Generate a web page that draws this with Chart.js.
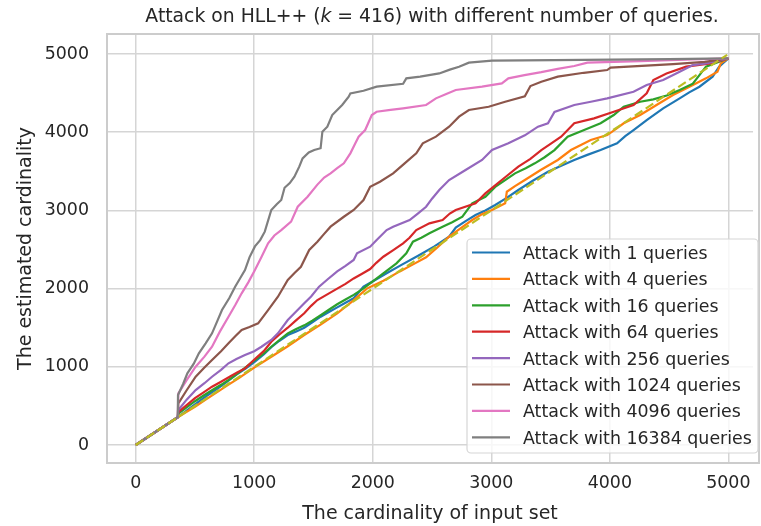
<!DOCTYPE html>
<html><head><meta charset="utf-8">
<script src="https://cdn.jsdelivr.net/npm/chart.js@4.4.0/dist/chart.umd.min.js"></script>
<style>html,body{margin:0;padding:0;background:#fff;overflow:hidden}canvas{display:block}</style>
</head><body>
<canvas id="c" width="761" height="526"></canvas>
<script>
// ---- data ----
const seriesLabels = ['Attack with 1 queries','Attack with 4 queries','Attack with 16 queries','Attack with 64 queries','Attack with 256 queries','Attack with 1024 queries','Attack with 4096 queries','Attack with 16384 queries'];
const seriesColors = ['#1f77b4','#ff7f0e','#2ca02c','#d62728','#9467bd','#8c564b','#e377c2','#7f7f7f'];
const xTicks = [0,1000,2000,3000,4000,5000];
const yTicks = [0,1000,2000,3000,4000,5000];

const q1 = [[0,0],[355,355],[430,440],[500,520],[600,630],[700,730],[780,820],[850,900],[930,980],[1006,1066],[1080,1160],[1144,1250],[1210,1330],[1283,1407],[1350,1450],[1422,1500],[1490,1570],[1561,1641],[1630,1700],[1700,1760],[1770,1820],[1839,1876],[1922,2025],[2020,2110],[2117,2196],[2250,2310],[2394,2430],[2520,2540],[2644,2664],[2700,2780],[2780,2860],[2867,2941],[2950,3000],[3033,3069],[3130,3160],[3228,3261],[3350,3380],[3478,3495],[3590,3570],[3700,3645],[3810,3710],[3922,3772],[4061,3858],[4130,3950],[4200,4028],[4311,4156],[4450,4305],[4589,4433],[4670,4510],[4756,4582],[4867,4710],[4922,4838],[5000,4945]];
const q4 = [[0,0],[355,355],[430,425],[500,490],[600,590],[700,690],[780,770],[867,853],[1000,990],[1144,1129],[1280,1260],[1422,1407],[1560,1540],[1700,1684],[1830,1840],[1950,2000],[2090,2100],[2228,2220],[2340,2310],[2450,2400],[2540,2520],[2644,2664],[2740,2770],[2839,2877],[2920,2950],[3006,3005],[3117,3091],[3131,3239],[3200,3310],[3283,3389],[3420,3520],[3561,3645],[3672,3772],[3760,3840],[3839,3900],[3978,3964],[4050,4040],[4117,4114],[4256,4220],[4394,4348],[4533,4476],[4672,4582],[4811,4689],[4908,4774],[4936,4880],[5000,4945]];
const q16 = [[0,0],[355,355],[360,400],[430,480],[500,560],[570,630],[644,700],[720,770],[800,850],[900,960],[1006,1087],[1080,1170],[1144,1257],[1210,1340],[1283,1428],[1350,1480],[1422,1530],[1490,1590],[1561,1660],[1630,1730],[1700,1800],[1770,1860],[1839,1920],[1910,1990],[1978,2068],[2089,2196],[2200,2323],[2283,2451],[2339,2600],[2410,2650],[2478,2707],[2589,2792],[2670,2850],[2756,2919],[2839,3091],[2950,3175],[3033,3300],[3120,3390],[3200,3474],[3290,3540],[3367,3602],[3450,3680],[3533,3772],[3644,3943],[3783,4028],[3922,4114],[4033,4220],[4117,4326],[4256,4390],[4367,4420],[4480,4470],[4589,4540],[4700,4620],[4756,4731],[4811,4838],[5000,4945]];
const q64 = [[0,0],[355,355],[360,420],[430,510],[500,600],[570,670],[644,746],[720,810],[800,880],[860,930],[922,980],[1006,1100],[1080,1200],[1144,1320],[1210,1410],[1283,1500],[1350,1590],[1422,1684],[1480,1780],[1533,1854],[1620,1930],[1700,2000],[1770,2060],[1839,2130],[1910,2190],[1978,2250],[2030,2330],[2089,2408],[2170,2490],[2256,2579],[2310,2650],[2367,2749],[2478,2835],[2589,2877],[2650,2960],[2700,3005],[2867,3091],[2950,3218],[3033,3320],[3130,3440],[3228,3559],[3330,3660],[3422,3772],[3500,3850],[3589,3943],[3700,4114],[3867,4177],[4033,4262],[4200,4348],[4311,4497],[4367,4668],[4478,4752],[4644,4838],[4850,4880],[5000,4945]];
const q256 = [[0,0],[355,355],[360,448],[430,580],[506,703],[580,790],[644,873],[720,960],[783,1045],[850,1100],[922,1150],[1000,1200],[1061,1257],[1144,1343],[1200,1428],[1283,1598],[1339,1684],[1422,1812],[1480,1900],[1547,2025],[1620,2120],[1700,2220],[1770,2290],[1839,2366],[1867,2451],[1978,2536],[2033,2622],[2117,2749],[2172,2792],[2311,2877],[2380,2960],[2450,3047],[2500,3150],[2561,3261],[2644,3389],[2783,3517],[2922,3645],[3006,3772],[3144,3858],[3283,3960],[3394,4071],[3478,4114],[3533,4260],[3700,4348],[3840,4390],[3978,4433],[4200,4518],[4311,4604],[4450,4668],[4589,4774],[4700,4859],[4811,4880],[5000,4945]];
const q1024 = [[0,0],[355,355],[360,533],[430,700],[506,873],[580,990],[644,1087],[720,1200],[783,1300],[840,1390],[894,1471],[960,1510],[1033,1556],[1117,1726],[1200,1896],[1283,2110],[1340,2200],[1394,2280],[1464,2494],[1533,2600],[1590,2700],[1644,2792],[1756,2919],[1839,3005],[1922,3133],[1978,3303],[2061,3367],[2172,3474],[2269,3602],[2367,3730],[2422,3858],[2533,3943],[2644,4071],[2728,4199],[2811,4284],[2978,4326],[3117,4390],[3283,4460],[3330,4590],[3422,4646],[3561,4710],[3780,4760],[3978,4795],[4006,4825],[4533,4872],[4800,4900],[5000,4945]];
const q4096 = [[0,0],[355,355],[360,661],[430,830],[506,1001],[580,1130],[644,1257],[710,1450],[783,1641],[840,1790],[894,1940],[950,2080],[1006,2238],[1060,2400],[1117,2579],[1170,2680],[1228,2749],[1311,2856],[1367,3047],[1450,3175],[1533,3330],[1590,3420],[1644,3474],[1700,3540],[1756,3602],[1811,3730],[1853,3858],[1881,3943],[1936,4028],[1992,4220],[2033,4262],[2150,4285],[2256,4305],[2450,4348],[2533,4433],[2620,4490],[2700,4540],[2922,4582],[3089,4625],[3144,4689],[3280,4730],[3422,4768],[3560,4810],[3700,4847],[3811,4889],[4256,4910],[4700,4930],[5000,4945]];
const q16384 = [[0,0],[355,355],[357,640],[400,780],[436,917],[490,1040],[533,1172],[590,1300],[644,1428],[690,1590],[728,1726],[790,1880],[839,2025],[880,2130],[922,2238],[960,2400],[1006,2540],[1050,2620],[1089,2728],[1144,3005],[1190,3080],[1228,3133],[1256,3290],[1300,3350],[1339,3431],[1380,3560],[1408,3666],[1460,3740],[1506,3772],[1560,3795],[1575,4006],[1617,4071],[1658,4220],[1700,4284],[1742,4348],[1797,4454],[1811,4497],[1922,4530],[2033,4582],[2256,4620],[2283,4689],[2400,4710],[2561,4752],[2650,4800],[2728,4838],[2811,4889],[3006,4915],[3533,4923],[4500,4935],[5000,4945]];
const trueCardinality = [[0,0],[4990,4990]];

const seriesData = [q1,q4,q16,q64,q256,q1024,q4096,q16384];

// ---- rendering ----
const FONT = "'DejaVu Sans', sans-serif";
const TEXT = '#262626';
const toXY = a => a.map(p => ({x:p[0], y:p[1]}));
const plainTick = v => String(v);

const datasets = seriesData.map((d,i) => ({
  label: seriesLabels[i], data: toXY(d), borderColor: seriesColors[i], backgroundColor: seriesColors[i],
  borderWidth: 2.2, pointRadius: 0, tension: 0, fill: false, order: 20 - i, showInLegend: true
}));
datasets.push({label: 'true cardinality', data: toXY(trueCardinality), borderColor: '#bcbd22',
  borderDash: [9,4], borderWidth: 2.2, pointRadius: 0, tension: 0, fill: false, order: 0, showInLegend: false});

const framePlugin = {
  id: 'frame',
  afterDatasetsDraw(chart) {
    const {ctx, chartArea: a} = chart;
    ctx.save();
    ctx.strokeStyle = '#cccccc'; ctx.lineWidth = 2;
    ctx.strokeRect(a.left, a.top, a.right - a.left + 6, a.bottom - a.top);
    ctx.restore();
  }
};

const titlePlugin = {
  id: 'mtitle',
  afterDraw(chart) {
    const ctx = chart.ctx;
    const parts = [
      {t: 'Attack on HLL++ (', s: 'normal'},
      {t: 'k', s: 'italic'},
      {t: ' = 416) with different number of queries.', s: 'normal'}
    ];
    ctx.save();
    ctx.fillStyle = TEXT; ctx.textBaseline = 'alphabetic'; ctx.textAlign = 'left';
    let total = 0;
    parts.forEach(p => { ctx.font = p.s + ' 18.8px ' + FONT; p.w = ctx.measureText(p.t).width; total += p.w; });
    const cx = chart.scales.x.getPixelForValue(2500);
    let x = cx - total / 2;
    parts.forEach(p => { ctx.font = p.s + ' 18.8px ' + FONT; ctx.fillText(p.t, x, 22); x += p.w; });
    ctx.restore();
  }
};

const legendPlugin = {
  id: 'mlegend',
  afterDraw(chart) {
    const ctx = chart.ctx;
    const items = chart.data.datasets.filter(d => d.showInLegend);
    const bx = 467, by = 239, bw = 291, bh = 214;
    ctx.save();
    ctx.beginPath();
    ctx.roundRect(bx, by, bw, bh, 4);
    ctx.fillStyle = 'rgba(255,255,255,0.8)';
    ctx.fill();
    ctx.strokeStyle = '#d6d6d6'; ctx.lineWidth = 1.2;
    ctx.stroke();
    ctx.font = '17.4px ' + FONT;
    ctx.textBaseline = 'alphabetic';
    items.forEach((d, i) => {
      const y = 252.5 + i * 26.4;
      ctx.strokeStyle = d.borderColor; ctx.lineWidth = 2.2;
      ctx.beginPath(); ctx.moveTo(472, y); ctx.lineTo(510, y); ctx.stroke();
      ctx.fillStyle = TEXT;
      ctx.fillText(d.label, 523, y + 6.5);
    });
    ctx.restore();
  }
};

new Chart(document.getElementById('c'), {
  type: 'line',
  data: {datasets},
  plugins: [framePlugin, titlePlugin, legendPlugin],
  options: {
    responsive: false, animation: false, devicePixelRatio: 1,
    layout: {padding: {top: 34, left: 0, right: 0, bottom: 0}},
    plugins: {legend: {display: false}, title: {display: false}, tooltip: {enabled: false}},
    scales: {
      x: {
        type: 'linear', min: -242, max: 5208,
        afterBuildTicks: s => { s.ticks = xTicks.map(v => ({value: v})); },
        afterFit: s => { s.height = 63; },
        grid: {color: '#d5d5d5', lineWidth: 1.5, drawTicks: false},
        border: {display: false},
        ticks: {padding: 10.5, color: TEXT, font: {family: FONT, size: 17.4}, maxRotation: 0, autoSkip: false, callback: plainTick},
        title: {display: true, text: 'The cardinality of input set', color: TEXT, font: {family: FONT, size: 19}, padding: {top: 0, bottom: 1}}
      },
      y: {
        type: 'linear', min: -230, max: 5256,
        afterBuildTicks: s => { s.ticks = yTicks.map(v => ({value: v})); },
        afterFit: s => { s.width = 107; },
        grid: {color: '#d5d5d5', lineWidth: 1.5, drawTicks: false},
        border: {display: false},
        ticks: {padding: 18, color: TEXT, font: {family: FONT, size: 17.4}, autoSkip: false, callback: plainTick},
        title: {display: true, text: 'The estimated cardinality', color: TEXT, font: {family: FONT, size: 19}, padding: {top: 15, bottom: 0}}
      }
    }
  }
});
</script>
</body></html>
